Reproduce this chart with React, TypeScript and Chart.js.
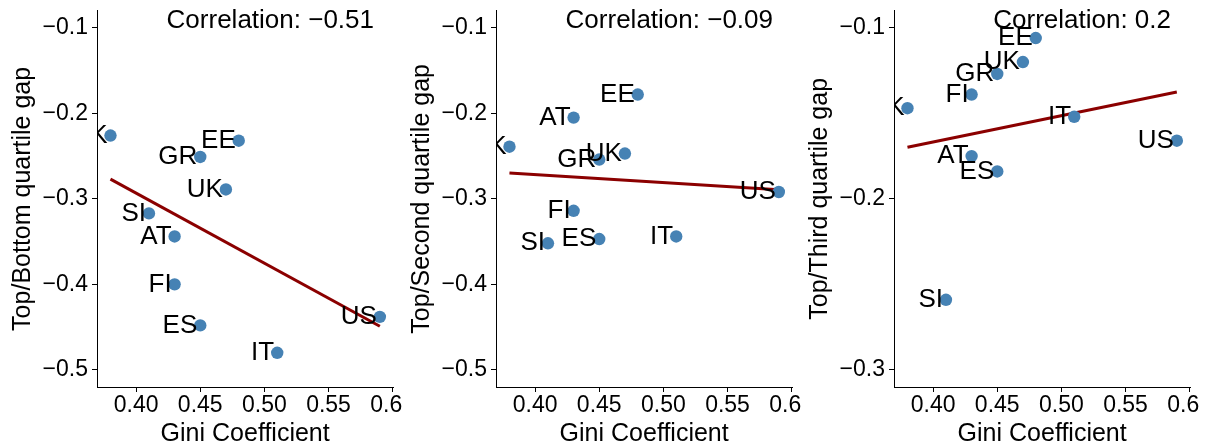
import React, { useEffect, useRef } from "react";
import { Chart, registerables } from "chart.js";

Chart.register(...registerables);

// ---------------- data ----------------
const countries = ["SK", "AT", "EE", "ES", "FI", "GR", "IT", "SI", "UK", "US"];
const gini = [0.38, 0.43, 0.48, 0.45, 0.43, 0.45, 0.51, 0.41, 0.47, 0.59];
const gapTopBottom = [-0.226, -0.344, -0.232, -0.448, -0.4, -0.251, -0.48, -0.317, -0.289, -0.438];
const gapTopSecond = [-0.239, -0.205, -0.178, -0.347, -0.314, -0.254, -0.344, -0.352, -0.247, -0.292];
const gapTopThird = [-0.147, -0.175, -0.106, -0.184, -0.139, -0.127, -0.152, -0.259, -0.12, -0.166];

const xTicks = [0.4, 0.45, 0.5, 0.55, 0.6];
const xTickLabels = ["0.40", "0.45", "0.50", "0.55", "0.60"];
const yTicksWide = [-0.5, -0.4, -0.3, -0.2, -0.1];
const yTickLabelsWide = ["\u22120.5", "\u22120.4", "\u22120.3", "\u22120.2", "\u22120.1"];
const yTicksNarrow = [-0.3, -0.2, -0.1];
const yTickLabelsNarrow = ["\u22120.3", "\u22120.2", "\u22120.1"];
const yLimitsWide = [-0.5, -0.1];
const yLimitsNarrow = [-0.3, -0.1];

const yTitles = ["Top/Bottom quartile gap", "Top/Second quartile gap", "Top/Third quartile gap"];
const corrTexts = ["Correlation: \u22120.51", "Correlation: \u22120.09", "Correlation: 0.2"];
const xTitle = "Gini Coefficient";

// ---------------- style ----------------
const FONT = "'Liberation Sans', Arial, Helvetica, sans-serif";
const POINT_COLOR = "#4682B4";
const LINE_COLOR = "#8B0000";
const CANVAS_W = 403;
const CANVAS_H = 447;

function expand(lo: number, hi: number) {
  const r = hi - lo;
  return [lo - 0.05 * r, hi + 0.05 * r];
}

function labelFor(ticks: number[], labels: string[], v: number) {
  const i = ticks.findIndex((t) => Math.abs(t - v) < 1e-9);
  return i >= 0 ? labels[i] : "";
}

type PanelProps = {
  values: number[];
  yTicks: number[];
  yLabels: string[];
  yLim: number[];
  yTitle: string;
  corr: string;
  left: number;
};

function Panel({ values, yTicks, yLabels, yLim, yTitle, corr, left }: PanelProps) {
  const ref = useRef<HTMLCanvasElement>(null);

  useEffect(() => {
    const canvas = ref.current;
    if (!canvas) return;

    const pts = gini.map((g, i) => ({ x: g, y: values[i] }));
    const n = gini.length;
    const mx = gini.reduce((a, b) => a + b, 0) / n;
    const my = values.reduce((a, b) => a + b, 0) / n;
    let sxy = 0;
    let sxx = 0;
    for (let i = 0; i < n; i++) {
      sxy += (gini[i] - mx) * (values[i] - my);
      sxx += (gini[i] - mx) * (gini[i] - mx);
    }
    const slope = sxy / sxx;
    const icpt = my - slope * mx;
    const x0 = Math.min(...gini);
    const x1 = Math.max(...gini);
    const fit = [
      { x: x0, y: icpt + slope * x0 },
      { x: x1, y: icpt + slope * x1 },
    ];

    const [xmin, xmax] = expand(x0, x1);
    const [ymin, ymax] = expand(yLim[0], yLim[1]);

    const textPlugin = {
      id: "panelText",
      afterDatasetsDraw(chart: any) {
        const { ctx, chartArea: ca } = chart;
        const meta = chart.getDatasetMeta(0);
        ctx.save();
        ctx.beginPath();
        ctx.rect(ca.left, ca.top, ca.right - ca.left, ca.bottom - ca.top);
        ctx.clip();
        ctx.fillStyle = "#000";
        ctx.font = `26px ${FONT}`;
        ctx.textAlign = "right";
        ctx.textBaseline = "middle";
        meta.data.forEach((el: any, i: number) => {
          ctx.fillText(countries[i], el.x - 3, el.y);
        });
        ctx.restore();

        ctx.save();
        ctx.fillStyle = "#000";
        ctx.font = `26px ${FONT}`;
        ctx.textAlign = "right";
        ctx.textBaseline = "middle";
        ctx.fillText(corr, ca.left + 277, ca.top + 10.3);
        ctx.restore();
      },
      afterDraw(chart: any) {
        const { ctx, chartArea: ca } = chart;
        ctx.save();
        ctx.fillStyle = "#000";
        ctx.font = `25px ${FONT}`;
        ctx.textAlign = "center";
        ctx.textBaseline = "alphabetic";
        ctx.fillText(xTitle, (ca.left + ca.right) / 2, 440.5);
        ctx.translate(30, (ca.top + ca.bottom) / 2);
        ctx.rotate(-Math.PI / 2);
        ctx.fillText(yTitle, 0, 0);
        ctx.restore();
      },
    };

    const zeroPad = (s: any) => {
      s.paddingLeft = 0;
      s.paddingRight = 0;
      s.paddingTop = 0;
      s.paddingBottom = 0;
    };

    const chart = new Chart(canvas, {
      type: "scatter",
      data: {
        datasets: [
          {
            data: pts,
            pointRadius: 6.2,
            pointHoverRadius: 6.2,
            backgroundColor: POINT_COLOR,
            borderWidth: 0,
            showLine: false,
          },
          {
            data: fit,
            showLine: true,
            borderColor: LINE_COLOR,
            borderWidth: 3,
            pointRadius: 0,
            pointHoverRadius: 0,
            fill: false,
          },
        ],
      },
      options: {
        responsive: false,
        animation: false,
        events: [],
        layout: { padding: { left: 0, right: 9.7, top: 10.7, bottom: 0 } },
        plugins: {
          legend: { display: false },
          tooltip: { enabled: false },
          title: { display: false },
        },
        scales: {
          x: {
            type: "linear",
            min: xmin,
            max: xmax,
            afterBuildTicks: (s: any) => {
              s.ticks = xTicks.map((v) => ({ value: v }));
            },
            afterFit: (s: any) => {
              s.height = 60;
              zeroPad(s);
            },
            ticks: {
              autoSkip: false,
              maxRotation: 0,
              minRotation: 0,
              padding: 0,
              color: "#000",
              font: { family: FONT, size: 23 },
              callback: (v: any) => labelFor(xTicks, xTickLabels, Number(v)),
            },
            grid: {
              drawOnChartArea: false,
              drawTicks: true,
              tickLength: 5,
              color: "#000",
              lineWidth: 1,
            },
            border: { display: true, color: "#000", width: 1 },
          },
          y: {
            type: "linear",
            min: ymin,
            max: ymax,
            afterBuildTicks: (s: any) => {
              s.ticks = yTicks.map((v) => ({ value: v }));
            },
            afterFit: (s: any) => {
              s.width = 97;
              zeroPad(s);
            },
            ticks: {
              autoSkip: false,
              padding: 4,
              color: "#000",
              font: { family: FONT, size: 23 },
              callback: (v: any) => labelFor(yTicks, yLabels, Number(v)),
            },
            grid: {
              drawOnChartArea: false,
              drawTicks: true,
              tickLength: 5,
              color: "#000",
              lineWidth: 1,
            },
            border: { display: true, color: "#000", width: 1 },
          },
        },
      } as any,
      plugins: [textPlugin],
    });

    return () => chart.destroy();
  }, [values, yTicks, yLabels, yLim, yTitle, corr]);

  return (
    <canvas
      ref={ref}
      width={CANVAS_W}
      height={CANVAS_H}
      style={{ position: "absolute", left, top: 0, width: CANVAS_W, height: CANVAS_H, display: "block" }}
    />
  );
}

export default function App() {
  return (
    <div style={{ position: "absolute", left: 0, top: 0, width: 1208, height: 447, background: "#fff", overflow: "hidden" }}>
      <Panel values={gapTopBottom} yTicks={yTicksWide} yLabels={yTickLabelsWide} yLim={yLimitsWide} yTitle={yTitles[0]} corr={corrTexts[0]} left={0} />
      <Panel values={gapTopSecond} yTicks={yTicksWide} yLabels={yTickLabelsWide} yLim={yLimitsWide} yTitle={yTitles[1]} corr={corrTexts[1]} left={399} />
      <Panel values={gapTopThird} yTicks={yTicksNarrow} yLabels={yTickLabelsNarrow} yLim={yLimitsNarrow} yTitle={yTitles[2]} corr={corrTexts[2]} left={797} />
    </div>
  );
}
